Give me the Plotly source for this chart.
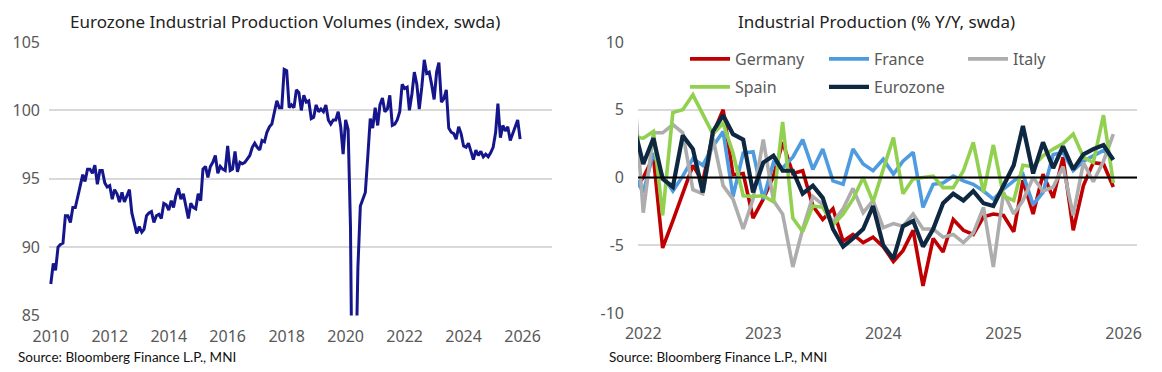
import pandas as pd
import plotly.graph_objects as go

# ---------------- data ----------------
# Eurozone industrial production volume index (swda), monthly Jan 2010 - Dec 2025
ez_index = [
    87.3, 88.8, 88.3, 90.0, 90.2, 90.3, 92.3, 92.3, 91.8, 92.9, 92.9, 93.7,
    94.5, 95.3, 94.8, 95.7, 95.7, 95.4, 96.0, 94.6, 95.6, 95.6, 94.7, 94.4,
    94.5, 93.5, 94.2, 93.9, 93.3, 94.0, 93.3, 93.7, 94.2, 92.5, 91.6, 91.0,
    91.5, 91.1, 91.3, 92.3, 92.5, 92.6, 91.8, 92.3, 92.4, 92.1, 93.2, 93.1,
    92.7, 93.4, 92.9, 93.8, 94.3, 93.5, 93.9, 92.9, 92.1, 93.2, 92.9, 92.8,
    93.9, 93.4, 95.7, 95.9, 95.1, 95.9, 96.2, 96.7, 95.4, 95.9, 95.7, 95.6,
    97.4, 95.6, 95.7, 97.0, 95.5, 96.2, 96.1, 96.2, 96.5, 96.7, 97.3, 97.6,
    97.3, 97.1, 97.8, 97.7, 98.4, 98.8, 99.0, 99.8, 100.7, 100.2, 100.2, 103.0,
    102.9, 100.2, 100.4, 100.2, 101.5, 101.3, 100.0, 101.1, 100.6, 100.7, 99.4, 99.5,
    100.4, 99.9, 100.1, 99.9, 100.4, 99.3, 99.0, 99.3, 99.3, 99.9, 98.8, 96.8,
    99.3, 98.6, 91.5, 72.0, 79.0, 88.5, 93.0, 93.5, 94.0, 96.6, 99.4, 98.7,
    100.2, 98.9, 100.4, 100.9, 99.9, 100.1, 101.1, 98.9, 99.0, 99.3, 99.9, 101.9,
    101.6, 101.7, 100.0, 101.2, 102.8, 101.9, 100.1, 101.7, 103.7, 102.7, 102.8, 101.9,
    100.8, 102.8, 103.5, 100.6, 100.85, 101.5, 98.7, 98.4, 98.3, 97.9, 98.8, 98.3,
    97.4, 97.3, 97.6, 97.0, 96.4, 97.1, 96.7, 97.0, 96.6, 96.8, 96.6, 96.9,
    97.3, 98.4, 100.5, 98.0, 98.9, 98.5, 98.8, 97.8, 98.3, 98.9, 99.3, 97.9,
]
ez_start = "2010-01-01"
left_ticks = [85, 90, 95, 100, 105]

# Industrial production % Y/Y (swda), monthly Dec 2021 - Dec 2025
yy_start = "2021-12-01"
germany = [
    -1.0, 0.0, 1.5, -5.2, -3.2, -1.2, 0.9, -0.3, 3.2, 5.0, 0.2, 0.3, -3.0,
    -1.6, 0.1, 2.6, 0.3, 0.5, -2.1, -3.1, -2.3, -4.7, -4.2, -4.8, -4.4,
    -5.1, -6.2, -5.4, -3.9, -8.0, -4.5, -5.5, -3.1, -3.9, -4.2, -2.9, -2.7,
    -2.8, -4.0, -0.2, -2.7, 0.25, -1.5, 1.5, -3.9, -0.6, 1.1, 1.0, -0.7,
]
france = [
    0.3, -1.1, 1.8, 0.1, -1.0, 0.1, 1.4, 0.9, 2.3, 3.4, -1.4, 1.8, 1.9,
    -1.6, 1.1, 0.7, 1.5, 2.8, 0.6, 2.1, -0.25, -0.5, 2.1, 1.0, 0.5,
    1.35, 0.25, 1.2, 1.85, -2.2, -0.5, -0.4, 0.1, -0.25, -0.5, -1.0, -1.6,
    -0.85, -0.25, 0.25, -2.0, -1.1, 1.7, 1.85, 0.5, 1.2, 1.6, 2.0, 1.4,
]
italy = [
    7.5, -2.6, 3.3, 3.3, 3.9, 3.3, -0.9, -1.2, 2.9, -0.6, -1.6, -3.8, -1.6,
    2.8, -1.7, -2.7, -6.6, -3.8, -1.4, -2.0, -3.3, -2.3, -0.8, -2.6, -1.7,
    -3.7, -3.4, -3.6, -2.7, -3.8, -3.8, -4.4, -4.2, -4.8, -4.1, -2.2, -6.6,
    -1.1, -2.7, -1.7, 0.0, -1.0, -0.7, 0.8, -2.8, 1.1, -0.3, 1.2, 3.2,
]
spain = [
    3.0, 2.9, 3.4, -2.8, 4.8, 5.0, 6.1, 4.6, 3.2, 4.0, 1.8, -1.35, -1.4,
    -1.35, -1.8, 4.1, -3.0, -4.0, -2.1, -2.2, -3.5, -2.7, -1.6, 0.0, -1.8,
    0.6, 2.95, -1.2, -0.1, 0.0, 0.1, -0.75, -0.75, 0.5, 2.6, -1.1, 2.4,
    -1.35, -1.7, 0.9, 0.8, 1.6, 2.1, 2.5, 3.2, 1.5, 1.1, 4.6, -0.4,
]
eurozone = [
    4.0, 1.0, 2.9, -0.1, -0.7, 3.1, 2.1, -1.1, 3.4, 4.6, 3.2, 2.8, -1.1,
    1.1, 1.6, 0.5, 0.5, -1.2, -0.6, -1.5, -3.8, -5.1, -4.5, -3.8, -2.1,
    -5.0, -6.0, -3.6, -3.2, -5.1, -3.8, -1.9, -1.2, -1.7, -1.0, -1.9, -2.1,
    -0.6, 0.9, 3.8, 0.3, 2.6, 0.7, 2.3, 0.6, 1.7, 2.1, 2.4, 1.3,
]
series_names = ["Germany", "France", "Italy", "Spain", "Eurozone"]
series_legend_rows = ["legend", "legend", "legend", "legend2", "legend2"]
right_tickvals = [-10, -5, 0, 5, 10]
right_ticktext = ["-10", "-5", "0", "5", "10"]

# ---------------- styling ----------------
PAGE_OFF = 8                      # default body margin of the html page
W, H = 1162 - PAGE_OFF, 372 - PAGE_OFF
FONT = "Noto Sans"
TICK_COLOR = "#595959"
GRID = "#D9D9D9"
series_colors = ["#C00000", "#4E9BE0", "#ADADAD", "#92D050", "#0E2841"]
series_widths = [3.6, 3.6, 3.6, 3.6, 4.2]

ez_dates = pd.date_range(ez_start, periods=len(ez_index), freq="MS")
yy_dates = pd.date_range(yy_start, periods=len(eurozone), freq="MS")

fig = go.Figure()
fig.add_trace(go.Scatter(
    x=ez_dates, y=ez_index, mode="lines", showlegend=False,
    line=dict(color="#16168C", width=3), xaxis="x", yaxis="y",
    name="Eurozone IP index"))

for name, vals, col, wd, lg in zip(series_names, [germany, france, italy, spain, eurozone],
                                   series_colors, series_widths, series_legend_rows):
    fig.add_trace(go.Scatter(
        x=yy_dates, y=vals, mode="lines", name=name, legend=lg,
        line=dict(color=col, width=wd), xaxis="x2", yaxis="y2"))

def px(x):
    return (x - PAGE_OFF) / W

def py(y):
    return 1 - (y - PAGE_OFF) / H

axis_common = dict(showline=False, zeroline=False, ticks="", automargin=False,
                   tickfont=dict(family=FONT, size=16, color=TICK_COLOR))

legend_common = dict(orientation="h", xanchor="left", yanchor="top",
                     entrywidth=84, entrywidthmode="pixels", traceorder="normal",
                     bgcolor="rgba(0,0,0,0)", itemwidth=40,
                     font=dict(family=FONT, size=16, color=TICK_COLOR))

fig.update_layout(
    width=W, height=H,
    margin=dict(l=0, r=0, t=0, b=0, autoexpand=False),
    paper_bgcolor="white", plot_bgcolor="white",
    font=dict(family=FONT, size=16, color=TICK_COLOR),
    xaxis=dict(domain=[px(49), px(552)], anchor="y", type="date",
               range=["2009-12-10", "2026-12-31"], tick0="2010-01-01",
               dtick="M24", tickformat="%Y", showgrid=False,
               ticklabelstandoff=9, **axis_common),
    yaxis=dict(domain=[py(315.5), py(42)], anchor="x", range=[85, 105],
               tickvals=left_ticks, showgrid=True, gridcolor=GRID, gridwidth=1.6,
               ticklabelstandoff=8, **axis_common),
    xaxis2=dict(domain=[px(638), px(1137)], anchor="y2", type="date",
                range=["2021-12-16", "2026-02-11"], tick0="2022-01-01",
                dtick="M12", tickformat="%Y", showgrid=False,
                ticklabelstandoff=9, **axis_common),
    yaxis2=dict(domain=[py(313), py(42)], anchor="x2", range=[-10, 10],
                tickvals=right_tickvals, ticktext=right_ticktext,
                showgrid=True, gridcolor=GRID, gridwidth=1.6,
                ticklabelstandoff=13, **axis_common),
    legend=dict(x=px(685), y=py(42), **legend_common),
    legend2=dict(x=px(685), y=py(70), **legend_common),
    showlegend=True,
)

# zero axis line on the right chart, drawn above the series as in the original
fig.add_shape(type="line", xref="x2 domain", yref="y2", x0=0, x1=1, y0=0, y1=0,
              line=dict(color="black", width=2), layer="above")

# titles and sources
fig.add_annotation(text="Eurozone Industrial Production Volumes (index, swda)",
                   xref="paper", yref="paper", x=px(285), y=py(22),
                   xanchor="center", yanchor="middle", showarrow=False,
                   font=dict(family=FONT, size=17, color="#222222"))
fig.add_annotation(text="Industrial Production (% Y/Y, swda)",
                   xref="paper", yref="paper", x=px(876), y=py(22),
                   xanchor="center", yanchor="middle", showarrow=False,
                   font=dict(family=FONT, size=17, color="#222222"))
for sx in (16, 607):
    fig.add_annotation(text="Source: Bloomberg Finance L.P., MNI",
                       xref="paper", yref="paper", x=px(sx), y=py(357),
                       xanchor="left", yanchor="middle", showarrow=False,
                       font=dict(family="Lato", size=13.5, color="#111111"))

fig.write_html("out.html")
